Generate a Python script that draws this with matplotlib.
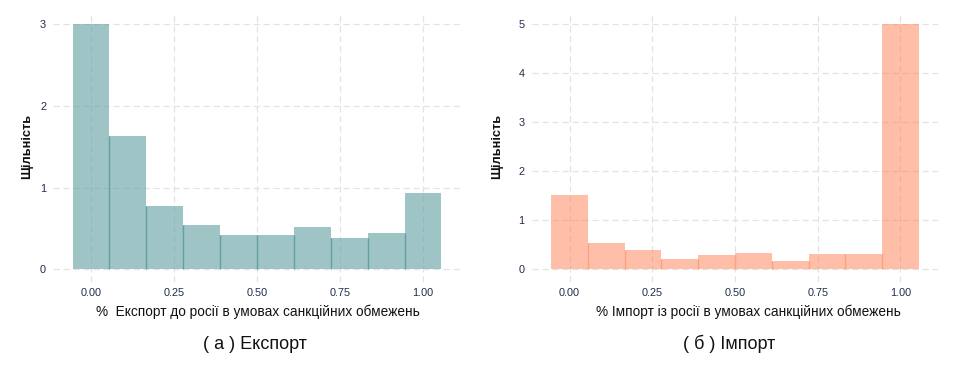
import matplotlib
matplotlib.use("Agg")
import matplotlib.pyplot as plt

plt.rcParams['font.family'] = ['Liberation Sans', 'DejaVu Sans']

# histogram bins (centres), bin width and density values
bin_centers = [0.0, 0.1111, 0.2222, 0.3333, 0.4444, 0.5556, 0.6667, 0.7778, 0.8889, 1.0]
bin_width = 0.1111
export_density = [3.0, 1.63, 0.77, 0.54, 0.42, 0.42, 0.52, 0.38, 0.44, 0.93]
import_density = [1.51, 0.54, 0.39, 0.21, 0.29, 0.33, 0.17, 0.31, 0.31, 5.0]

x_ticks = [0.0, 0.25, 0.5, 0.75, 1.0]
x_tick_labels = ["0.00", "0.25", "0.50", "0.75", "1.00"]
export_yticks = [0, 1, 2, 3]
import_yticks = [0, 1, 2, 3, 4, 5]

panels = [
    dict(values=export_density, yticks=export_yticks, fill="#5f9ea0", alpha=0.6,
         seam="#62a0a0", xlabel="%  Експорт до росії в умовах санкційних обмежень",
         xlabel_x=0.502, ylabel_x=-0.048, caption=("а", "Експорт"), cap_x=0.495,
         rect=[0.0553, 0.263, 0.4254, 0.7063]),
    dict(values=import_density, yticks=import_yticks, fill="#ff7f50", alpha=0.5,
         seam="#f6a483", xlabel="% Імпорт із росії в умовах санкційних обмежень",
         xlabel_x=0.532, ylabel_x=-0.07, caption=("б", "Імпорт"), cap_x=0.485,
         rect=[0.5544, 0.263, 0.424, 0.7063]),
]

fig = plt.figure(figsize=(9.59, 3.82), dpi=100)

for p in panels:
    ax = fig.add_axes(p["rect"])
    ax.set_axisbelow(True)
    ax.grid(True, color="#e3e3e3", linestyle=(0, (5, 3)), linewidth=0.9)
    vals = p["values"]
    ax.bar(bin_centers, vals, width=bin_width, color=p["fill"],
           alpha=p["alpha"], edgecolor="none", zorder=2)
    # darker seams where neighbouring bars meet
    seam_x = [c + bin_width / 2 for c in bin_centers[:-1]]
    seam_h = [min(a, b) for a, b in zip(vals[:-1], vals[1:])]
    ax.vlines(seam_x, 0, seam_h, color=p["seam"], linewidth=1.0, zorder=3)
    ymax = max(vals)
    ax.set_xlim(-0.1111 - 0.0033, 1.1111 + 0.0033)
    ax.set_ylim(-0.05 * ymax, ymax * 1.05)
    ax.set_xticks(x_ticks)
    ax.set_xticklabels(x_tick_labels)
    ax.set_yticks(p["yticks"])
    ax.tick_params(length=0, labelsize=7.8, labelcolor="#1f2c4a", pad=5)
    for s in ax.spines.values():
        s.set_visible(False)
    ax.set_ylabel("Щільність", fontsize=9.2, fontweight="bold", color="#111111")
    ax.yaxis.set_label_coords(p["ylabel_x"], 0.5)
    ax.set_xlabel(p["xlabel"], fontsize=9.8, color="#111111")
    ax.xaxis.set_label_coords(p["xlabel_x"], -0.085)
    letter, word = p["caption"]
    ax.text(p["cap_x"], -0.232, f"( {letter} ) {word}", transform=ax.transAxes,
            ha="center", va="center", fontsize=13, color="#111111")

fig.savefig("out.png", dpi=100)
